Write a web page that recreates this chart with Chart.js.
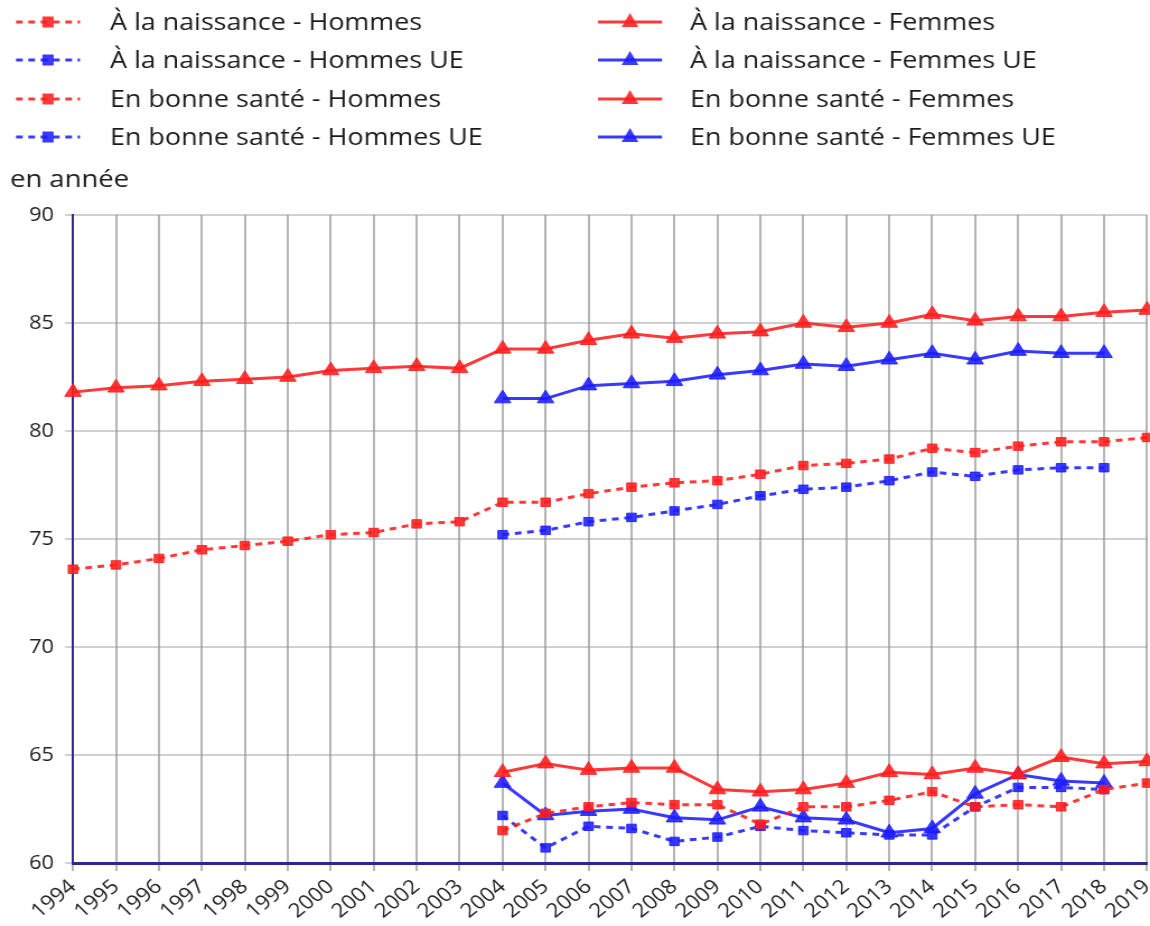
<!DOCTYPE html>
<html><head><meta charset="utf-8">
<script src="https://cdn.jsdelivr.net/npm/chart.js@4/dist/chart.umd.min.js"></script>
<style>html,body{margin:0;padding:0;background:#fff;overflow:hidden;}#wrap{width:1150px;height:926px;}
#c{display:block;width:1150px;height:926px;}</style>
</head><body><div id="wrap"><canvas id="c" width="1027" height="926" style="width:1150px;height:926px;"></canvas></div>
<script>
const years = ['1994','1995','1996','1997','1998','1999','2000','2001','2002','2003','2004','2005','2006','2007','2008','2009','2010','2011','2012','2013','2014','2015','2016','2017','2018','2019'];
const yTicks = [60, 65, 70, 75, 80, 85, 90];
const N = null;
const naissanceHommes = [73.6,73.8,74.1,74.5,74.7,74.9,75.2,75.3,75.7,75.8,76.7,76.7,77.1,77.4,77.6,77.7,78.0,78.4,78.5,78.7,79.2,79.0,79.3,79.5,79.5,79.7];
const naissanceHommesUE = [N,N,N,N,N,N,N,N,N,N,75.2,75.4,75.8,76.0,76.3,76.6,77.0,77.3,77.4,77.7,78.1,77.9,78.2,78.3,78.3,N];
const santeHommes = [N,N,N,N,N,N,N,N,N,N,61.5,62.3,62.6,62.8,62.7,62.7,61.8,62.6,62.6,62.9,63.3,62.6,62.7,62.6,63.4,63.7];
const santeHommesUE = [N,N,N,N,N,N,N,N,N,N,62.2,60.7,61.7,61.6,61.0,61.2,61.7,61.5,61.4,61.3,61.3,62.6,63.5,63.5,63.4,N];
const naissanceFemmes = [81.8,82.0,82.1,82.3,82.4,82.5,82.8,82.9,83.0,82.9,83.8,83.8,84.2,84.5,84.3,84.5,84.6,85.0,84.8,85.0,85.4,85.1,85.3,85.3,85.5,85.6];
const naissanceFemmesUE = [N,N,N,N,N,N,N,N,N,N,81.5,81.5,82.1,82.2,82.3,82.6,82.8,83.1,83.0,83.3,83.6,83.3,83.7,83.6,83.6,N];
const santeFemmes = [N,N,N,N,N,N,N,N,N,N,64.2,64.6,64.3,64.4,64.4,63.4,63.3,63.4,63.7,64.2,64.1,64.4,64.1,64.9,64.6,64.7];
const santeFemmesUE = [N,N,N,N,N,N,N,N,N,N,63.7,62.2,62.4,62.5,62.1,62.0,62.6,62.1,62.0,61.4,61.6,63.2,64.1,63.8,63.7,N];
const seriesNames = ['À la naissance - Hommes','À la naissance - Hommes UE','En bonne santé - Hommes','En bonne santé - Hommes UE','À la naissance - Femmes','À la naissance - Femmes UE','En bonne santé - Femmes','En bonne santé - Femmes UE'];
const yUnit = 'en année';

const S = 1150 / 1027; // horizontal stretch of the canvas
const RED = 'rgba(255,30,30,0.88)';
const BLUE = 'rgba(30,30,255,0.88)';
const FONT = "'Open Sans', 'Noto Sans', sans-serif";

function ds(label, data, color, dashed) {
  return {
    label, data, borderColor: color, backgroundColor: color,
    borderWidth: 3, borderDash: dashed ? [6,5] : [],
    pointStyle: dashed ? 'rect' : 'triangle',
    pointRadius: dashed ? 6 : 8.5, pointHoverRadius: dashed ? 6 : 8.5,
    pointBorderWidth: 1, spanGaps: false, tension: 0, fill: false
  };
}
const datasets = [
  ds(seriesNames[0], naissanceHommes, RED, true),
  ds(seriesNames[1], naissanceHommesUE, BLUE, true),
  ds(seriesNames[2], santeHommes, RED, true),
  ds(seriesNames[3], santeHommesUE, BLUE, true),
  ds(seriesNames[4], naissanceFemmes, RED, false),
  ds(seriesNames[5], naissanceFemmesUE, BLUE, false),
  ds(seriesNames[6], santeFemmes, RED, false),
  ds(seriesNames[7], santeFemmesUE, BLUE, false)
];

const legendPlugin = {
  id: 'customLegend',
  afterDraw(chart) {
    const ctx = chart.ctx;
    ctx.save();
    const colX = [16 / S, 598 / S];
    const textX = [110 / S, 690 / S];
    const rowY = [22, 60, 99, 137];
    const L = 64 / S;
    chart.data.datasets.forEach((d, i) => {
      const col = i < 4 ? 0 : 1, row = i % 4;
      const x0 = colX[col], y = rowY[row];
      ctx.strokeStyle = d.borderColor;
      ctx.lineWidth = 3;
      ctx.setLineDash(d.borderDash);
      ctx.beginPath(); ctx.moveTo(x0, y); ctx.lineTo(x0 + L, y); ctx.stroke();
      ctx.setLineDash([]);
      ctx.fillStyle = d.backgroundColor;
      const cx = x0 + L / 2;
      if (d.pointStyle === 'rect') {
        ctx.fillRect(cx - 5, y - 5.5, 10, 11);
      } else {
        ctx.beginPath();
        ctx.moveTo(cx, y - 9); ctx.lineTo(cx + 7.5, y + 5); ctx.lineTo(cx - 7.5, y + 5); ctx.closePath(); ctx.fill();
      }
      ctx.fillStyle = '#1a1a1a';
      ctx.font = '24px ' + FONT;
      ctx.textBaseline = 'middle';
      ctx.textAlign = 'left';
      ctx.fillText(d.label, textX[col], y + 1);
    });
    ctx.font = '24.5px ' + FONT;
    ctx.fillStyle = '#1a1a1a';
    ctx.textBaseline = 'middle';
    ctx.fillText(yUnit, 10 / S, 180);
    ctx.restore();
  }
};

new Chart(document.getElementById('c'), {
  type: 'line',
  data: { labels: years, datasets },
  options: {
    responsive: false, animation: false, devicePixelRatio: 1,
    layout: { autoPadding: false, padding: { top: 215, left: 0, right: 3 / S, bottom: 0 } },
    plugins: { legend: { display: false }, tooltip: { enabled: false } },
    scales: {
      x: {
        offset: false,
        grid: { color: 'rgba(120,120,120,0.55)', lineWidth: 2, tickLength: 8, drawOnChartArea: true },
        border: { color: '#2a2a8a', width: 3 },
        ticks: { autoSkip: false, maxRotation: 42, minRotation: 42, color: '#222', font: { family: FONT, size: 20 }, padding: 4 },
        afterFit(s) { s.height = 63; s.paddingLeft = 0; s.paddingRight = 0; }
      },
      y: {
        min: 60, max: 90,
        afterBuildTicks(s) { s.ticks = yTicks.map(v => ({ value: v })); },
        grid: { color: 'rgba(150,150,150,0.45)', lineWidth: 2, tickLength: 7 },
        border: { color: '#2a2a8a', width: 2 },
        ticks: { color: '#222', font: { family: FONT, size: 19.5 }, padding: 10 },
        afterFit(s) { s.width = 73 / S; }
      }
    }
  },
  plugins: [legendPlugin]
});
</script></body></html>
